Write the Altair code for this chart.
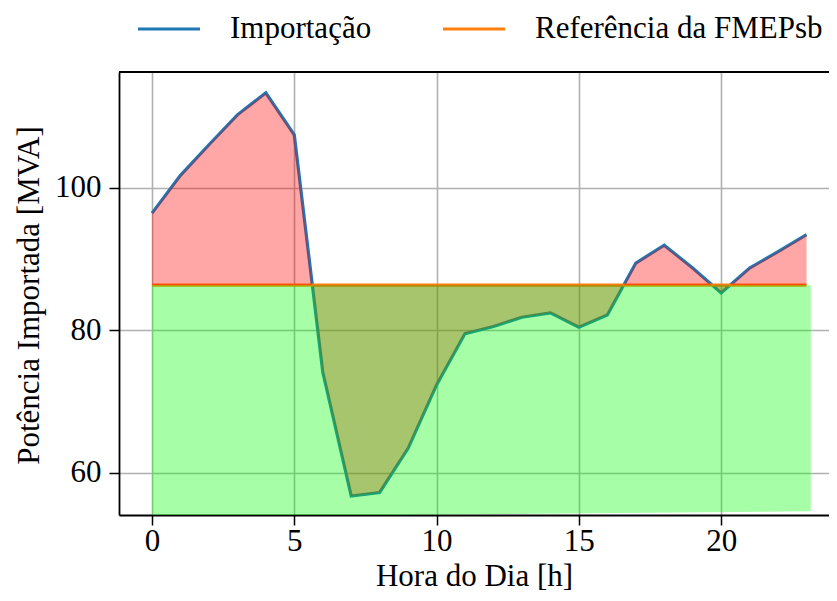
import altair as alt
import pandas as pd

# ---- data ----
horas = list(range(24))
importacao = [96.4, 101.7, 106.0, 110.2, 113.3, 107.4, 74.1, 56.7, 57.2, 63.4,
              72.3, 79.5, 80.5, 81.8, 82.4, 80.4, 82.1, 89.4, 91.9, 88.7,
              85.2, 88.7, 91.0, 93.4]
referencia = 86.3
verde_x = [0.0, 23.15]
verde_inferior = [53.75, 54.57]

x_ticks = [0, 5, 10, 15, 20]
y_ticks = [60, 80, 100]

series = ["Importação", "Referência da FMEPsb"]
cores = ["#1f77b4", "#ff7f0e"]

FONT = "Liberation Serif"
FS = 31
W, H = 710, 443

df = pd.DataFrame({"hora": horas, "importacao": importacao,
                   "ref": [referencia] * len(horas)})
linhas = pd.concat([
    pd.DataFrame({"hora": horas, "valor": importacao, "serie": series[0]}),
    pd.DataFrame({"hora": horas, "valor": [referencia] * len(horas), "serie": series[1]}),
])
verde = pd.DataFrame({"hora": verde_x, "inferior": verde_inferior,
                      "superior": [referencia] * len(verde_x)})

xscale = alt.Scale(domain=[-1.16, 23.79], nice=False, zero=False)
yscale = alt.Scale(domain=[54.04, 116.21], nice=False, zero=False)

common_axis = dict(labelFont=FONT, labelFontSize=FS, labelColor="black",
                   titleFont=FONT, titleFontSize=FS, titleFontWeight="normal",
                   titleColor="black", tickColor="black", tickSize=10,
                   tickWidth=1.5, domainColor="black", domainWidth=1.8,
                   grid=True, gridColor="#b0b0b0", gridWidth=1.6)

xaxis = alt.Axis(values=x_ticks, title="Hora do Dia [h]", labelPadding=1,
                 titleY=70, titleBaseline="alphabetic", **common_axis)
yaxis = alt.Axis(values=y_ticks, title="Potência Importada [MVA]",
                 labelPadding=8, titleX=-74, titleY=223, titleAngle=-90,
                 titleBaseline="bottom", **common_axis)

X = lambda f: alt.X(f, type="quantitative", scale=xscale, axis=xaxis)
Y = lambda f: alt.Y(f, type="quantitative", scale=yscale, axis=yaxis)

lines = alt.Chart(linhas).mark_line(strokeWidth=3.2, clip=True).encode(
    x=X("hora"), y=Y("valor"),
    color=alt.Color("serie:N", scale=alt.Scale(domain=series, range=cores),
                    legend=alt.Legend(title=None, orient="none", legendX=17,
                                      legendY=-76, direction="horizontal",
                                      symbolType="stroke", symbolStrokeWidth=3.2,
                                      symbolSize=3844, labelFont=FONT,
                                      labelFontSize=FS, labelColor="black",
                                      labelLimit=0,
                                      labelOffset=28, columnPadding=64)),
)

red = alt.Chart(df).mark_area(color="red", opacity=0.35, clip=True).encode(
    x=X("hora"), y=Y("importacao"), y2="ref:Q")

green = alt.Chart(verde).mark_area(color="lime", opacity=0.35, clip=True).encode(
    x=X("hora"), y=Y("inferior"), y2="superior:Q")

top_spine = alt.Chart(pd.DataFrame({"a": [0]})).mark_rule(
    color="black", strokeWidth=1.8).encode(
    x=alt.value(0), x2=alt.value(W), y=alt.value(0))

chart = alt.layer(lines, red, green, top_spine).properties(
    width=W, height=H, autosize="none",
    padding={"left": 111, "top": 64, "right": 0, "bottom": 78},
    background="white",
).configure_view(strokeWidth=0)

chart.save("out.html", embed_options={"renderer": "svg", "actions": False})
